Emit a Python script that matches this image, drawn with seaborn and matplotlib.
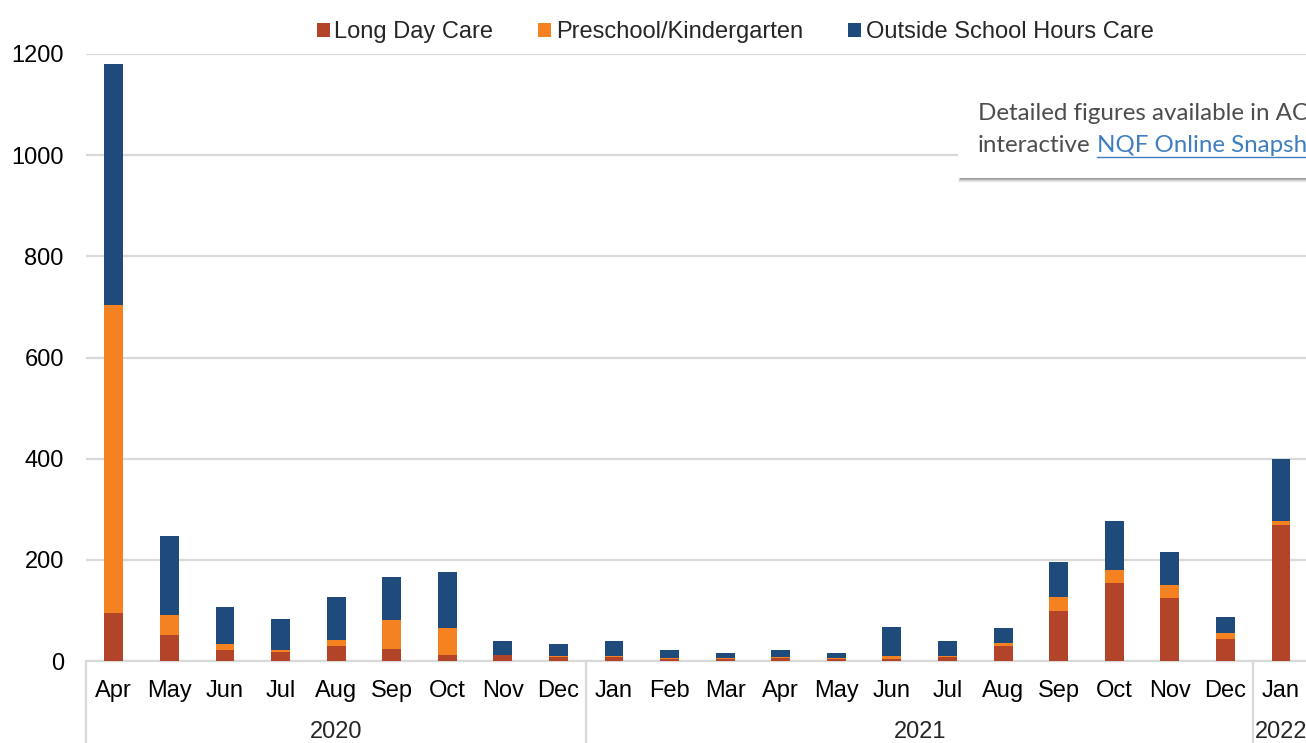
import numpy as np
import pandas as pd
import matplotlib
matplotlib.use("Agg")
import matplotlib.pyplot as plt
import matplotlib.transforms as mtransforms
from matplotlib.patches import Patch, Rectangle
from matplotlib.lines import Line2D
import seaborn as sns

# monthly counts
months = ["Apr", "May", "Jun", "Jul", "Aug", "Sep", "Oct", "Nov", "Dec",
          "Jan", "Feb", "Mar", "Apr", "May", "Jun", "Jul", "Aug", "Sep", "Oct", "Nov", "Dec",
          "Jan"]
years = ["2020"] * 9 + ["2021"] * 12 + ["2022"]
long_day_care = [94, 51, 22, 18, 30, 24, 12, 11, 8,
                 7, 3, 3, 6, 3, 3, 8, 30, 98, 155, 125, 44,
                 268]
preschool = [609, 40, 12, 4, 11, 57, 54, 1, 2,
             3, 2, 2, 1, 2, 6, 1, 6, 29, 24, 25, 12,
             9]
oshc = [477, 156, 73, 61, 85, 85, 109, 27, 24,
        30, 17, 11, 15, 11, 58, 30, 29, 68, 98, 65, 30,
        122]
series_names = ["Long Day Care", "Preschool/Kindergarten", "Outside School Hours Care"]
colors = ["#b2442a", "#f58220", "#1e4a7c"]

W, H = 1306, 743
keys = [f"{y}-{i:02d}-{m}" for i, (y, m) in enumerate(zip(years, months))]
df = pd.DataFrame({"key": keys, "ldc": long_day_care, "pre": preschool, "oshc": oshc})
df["mid"] = df["ldc"] + df["pre"]
df["top"] = df["mid"] + df["oshc"]

sns.set_style("white")
plt.rcParams["font.family"] = ["Liberation Sans", "DejaVu Sans"]

fig = plt.figure(figsize=(W / 100, H / 100), dpi=100)
ax = fig.add_axes([86 / W, 82 / H, 1220 / W, 607 / H])

bar_w = 0.34
for col, c in zip(["top", "mid", "ldc"], colors[::-1]):
    sns.barplot(data=df, x="key", y=col, order=keys, color=c, saturation=1,
                width=bar_w, errorbar=None, linewidth=0, ax=ax, zorder=3)

ax.set_xlim(-0.5, 21.45)
ax.set_ylim(0, 1200)
ax.set_yticks(range(0, 1201, 200))
ax.set_xticks(range(len(keys)))
ax.set_xticklabels(months)
ax.set_xlabel("")
ax.set_ylabel("")
ax.tick_params(axis="x", length=0, pad=14, labelsize=17, colors="black")
ax.tick_params(axis="y", length=0, pad=16, labelsize=17, colors="black")
ax.yaxis.grid(True, color="#d9d9d9", lw=1.6)
ax.set_axisbelow(True)
for s in ["top", "right", "left"]:
    ax.spines[s].set_visible(False)
ax.spines["bottom"].set_color("#d9d9d9")
ax.spines["bottom"].set_linewidth(1.6)

# year groups under the month labels
trans = mtransforms.blended_transform_factory(ax.transData, ax.transAxes)
for b in [-0.5, 8.5, 20.5]:
    ax.plot([b, b], [0, -0.15], transform=trans, color="#d9d9d9", lw=1.6, clip_on=False)
for label, xc in [("2020", 4), ("2021", 14.5), ("2022", 21)]:
    ax.text(xc, -0.117, label, transform=trans, ha="center", va="center", fontsize=17)

handles = [Patch(facecolor=c, edgecolor="none") for c in colors]
fig.legend(handles, series_names, loc="center", bbox_to_anchor=(735 / W, 1 - 32 / H),
           ncol=3, frameon=False, fontsize=17, handlelength=0.55, handleheight=0.55,
           handletextpad=0.2, columnspacing=1.9)

# overlay note box, cut off at the right edge (as in the screenshot)
x0, y_top, y_bot = 958 / W, 1 - 72 / H, 1 - 178 / H
for i, a in enumerate([0.45, 0.35, 0.22, 0.12, 0.06]):
    fig.add_artist(Rectangle((x0 + (2 - i * 0.4) / W, y_bot - (i + 0.5) / H), 1, (y_top - y_bot),
                             transform=fig.transFigure, facecolor="#7f7f7f",
                             edgecolor="none", alpha=a, zorder=9))
fig.add_artist(Rectangle((x0, y_bot), 1, y_top - y_bot, transform=fig.transFigure,
                         facecolor="white", edgecolor="none", zorder=10))

renderer = fig.canvas.get_renderer()
note_font = dict(family=["Lato", "DejaVu Sans"], zorder=11)
probe = fig.text(0, 0, "Detailed figures available in AC", fontsize=17, **note_font)
fs = 17 * 330 / probe.get_window_extent(renderer).width
probe.remove()

fig.text(978 / W, 1 - 113 / H, "Detailed figures available in ACECQA's",
         color="#4d4d4d", va="center", fontsize=fs, **note_font)
t2 = fig.text(978 / W, 1 - 145 / H, "interactive", color="#4d4d4d", va="center",
              fontsize=fs, **note_font)
x_link = (t2.get_window_extent(renderer).x1 + 0.27 * fs * 100 / 72) / W
fig.text(x_link, 1 - 145 / H, "NQF Online Snapshot", color="#3f7fc0", va="center",
         fontsize=fs, **note_font)
fig.add_artist(Line2D([x_link, 1.2], [1 - 157 / H, 1 - 157 / H], transform=fig.transFigure,
                      color="#3f7fc0", lw=1, zorder=11))

fig.savefig("out.png", dpi=100)
